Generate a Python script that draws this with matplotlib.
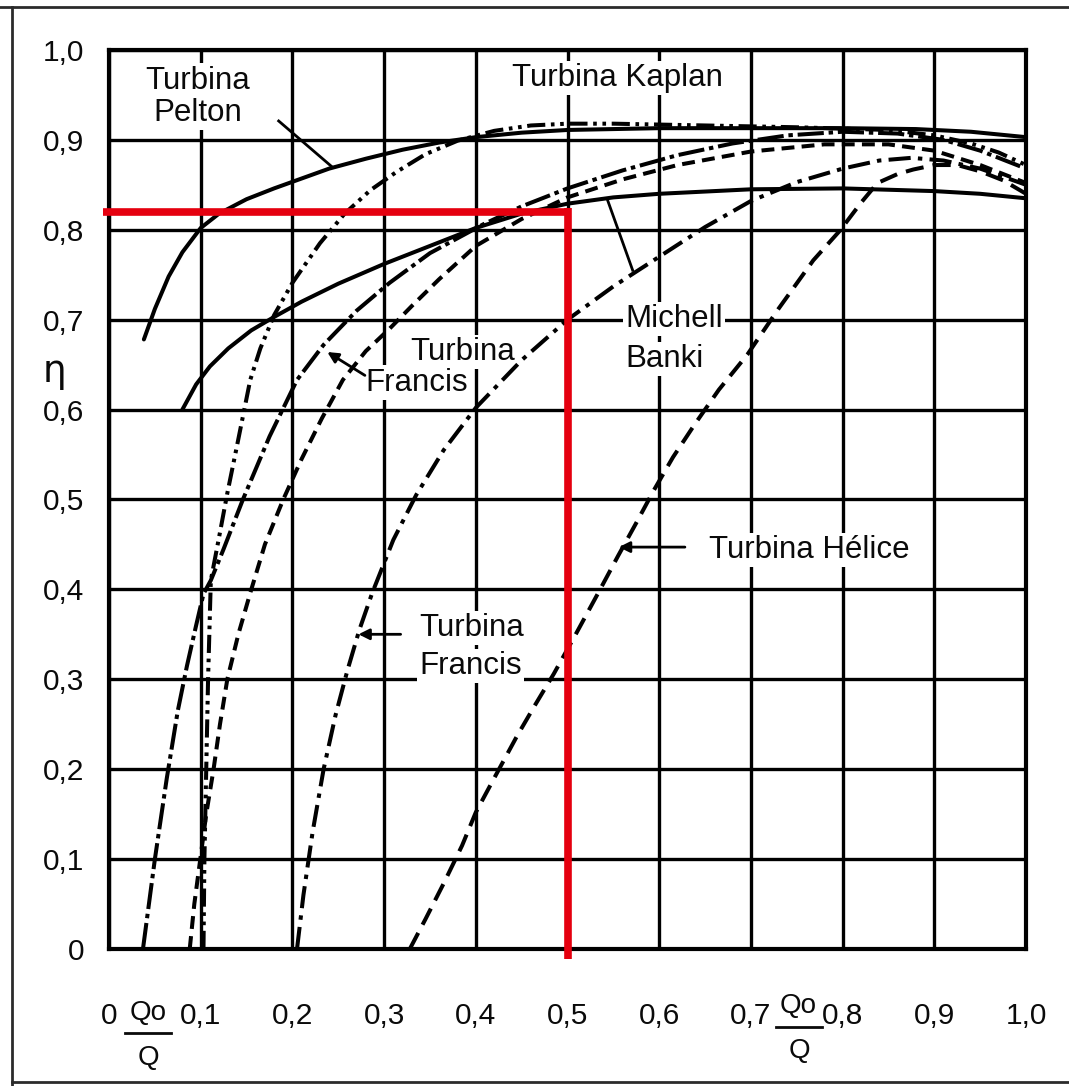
import matplotlib
matplotlib.use("Agg")
import matplotlib.pyplot as plt
from matplotlib.lines import Line2D

# ---------------- data: efficiency (eta) versus flow ratio Q/Qo ----------------
pelton_q = [0.038, 0.05, 0.065, 0.08, 0.10, 0.12, 0.15, 0.18, 0.21, 0.24, 0.28, 0.32,
            0.36, 0.40, 0.45, 0.50, 0.60, 0.70, 0.80, 0.88, 0.94, 1.00]
pelton_eta = [0.678, 0.712, 0.748, 0.775, 0.802, 0.818, 0.834, 0.846, 0.857, 0.868, 0.879,
              0.889, 0.897, 0.903, 0.908, 0.911, 0.913, 0.913, 0.913, 0.912, 0.909, 0.903]

banki_q = [0.08, 0.095, 0.11, 0.13, 0.155, 0.18, 0.21, 0.25, 0.30, 0.35, 0.40, 0.45,
           0.50, 0.55, 0.60, 0.70, 0.80, 0.90, 0.95, 1.00]
banki_eta = [0.600, 0.628, 0.648, 0.668, 0.688, 0.703, 0.720, 0.740, 0.762, 0.782, 0.802,
             0.818, 0.829, 0.836, 0.840, 0.845, 0.846, 0.843, 0.840, 0.835]

kaplan_q = [0.103, 0.104, 0.106, 0.108, 0.111, 0.12, 0.129, 0.14, 0.154, 0.165, 0.18, 0.20,
            0.23, 0.257, 0.285, 0.313, 0.345, 0.38, 0.42, 0.46, 0.50, 0.55, 0.65, 0.75,
            0.85, 0.90, 0.94, 0.97, 1.00]
kaplan_eta = [0.0, 0.1, 0.2, 0.3, 0.41, 0.458, 0.507, 0.562, 0.633, 0.668, 0.705, 0.741,
              0.785, 0.818, 0.844, 0.864, 0.884, 0.899, 0.91, 0.916, 0.918, 0.918, 0.916,
              0.914, 0.911, 0.905, 0.896, 0.886, 0.872]

francis_a_q = [0.037, 0.05, 0.063, 0.075, 0.085, 0.095, 0.103, 0.111, 0.125, 0.146, 0.175,
               0.205, 0.234, 0.27, 0.306, 0.35, 0.408, 0.45, 0.50, 0.56, 0.62, 0.68, 0.74,
               0.80, 0.86, 0.91, 0.95, 1.00]
francis_a_eta = [0.0, 0.1, 0.19, 0.265, 0.315, 0.36, 0.395, 0.41, 0.445, 0.5, 0.57, 0.633,
                 0.672, 0.71, 0.741, 0.774, 0.806, 0.826, 0.846, 0.866, 0.883, 0.896, 0.905,
                 0.909, 0.907, 0.9, 0.888, 0.868]

francis_b_q = [0.088, 0.093, 0.099, 0.106, 0.114, 0.121, 0.129, 0.141, 0.154, 0.17, 0.19,
               0.21, 0.232, 0.255, 0.28, 0.306, 0.33, 0.36, 0.40, 0.45, 0.50, 0.56, 0.62,
               0.70, 0.78, 0.85, 0.90, 0.95, 1.00]
francis_b_eta = [0.0, 0.05, 0.096, 0.15, 0.2, 0.25, 0.3, 0.35, 0.396, 0.45, 0.5, 0.545,
                 0.59, 0.633, 0.665, 0.69, 0.715, 0.745, 0.782, 0.812, 0.836, 0.856, 0.872,
                 0.887, 0.895, 0.895, 0.888, 0.872, 0.852]

francis_c_q = [0.205, 0.212, 0.222, 0.234, 0.247, 0.26, 0.273, 0.287, 0.31, 0.335, 0.365,
               0.40, 0.45, 0.50, 0.55, 0.60, 0.65, 0.70, 0.75, 0.80, 0.84, 0.875, 0.91,
               0.95, 1.00]
francis_c_eta = [0.0, 0.06, 0.13, 0.2, 0.26, 0.31, 0.355, 0.396, 0.455, 0.505, 0.555, 0.602,
                 0.655, 0.70, 0.737, 0.77, 0.803, 0.832, 0.853, 0.868, 0.877, 0.88, 0.877,
                 0.868, 0.85]

helice_q = [0.328, 0.345, 0.365, 0.385, 0.40, 0.42, 0.445, 0.465, 0.485, 0.51, 0.534, 0.555,
            0.575, 0.594, 0.615, 0.639, 0.665, 0.696, 0.73, 0.768, 0.797, 0.82, 0.838, 0.86,
            0.877, 0.90, 0.925, 0.95, 0.975, 1.00]
helice_eta = [0.0, 0.033, 0.073, 0.115, 0.152, 0.19, 0.237, 0.272, 0.306, 0.352, 0.397,
              0.437, 0.474, 0.51, 0.547, 0.584, 0.622, 0.661, 0.712, 0.766, 0.799, 0.83,
              0.852, 0.862, 0.867, 0.872, 0.872, 0.865, 0.855, 0.84]

# worked example
example_q = 0.5
example_eta = 0.82

x_ticks = [0.0, 0.1, 0.2, 0.3, 0.4, 0.5, 0.6, 0.7, 0.8, 0.9, 1.0]
x_labels = ["0", "0,1", "0,2", "0,3", "0,4", "0,5", "0,6", "0,7", "0,8", "0,9", "1,0"]
y_ticks = [0.0, 0.1, 0.2, 0.3, 0.4, 0.5, 0.6, 0.7, 0.8, 0.9, 1.0]
y_labels = ["0", "0,1", "0,2", "0,3", "0,4", "0,5", "0,6", "0,7", "0,8", "0,9", "1,0"]

# ---------------- figure ----------------
plt.rcParams["font.family"] = ["Liberation Sans", "DejaVu Sans"]
ink = "#0a0a0a"

fig = plt.figure(figsize=(10.69, 10.86), dpi=100)
ax = fig.add_axes([0.1020, 0.1262, 0.8578, 0.8278])
ax.set_xlim(0, 1)
ax.set_ylim(0, 1)

ax.set_xticks(x_ticks)
ax.set_xticklabels(x_labels)
ax.set_yticks(y_ticks)
ax.set_yticklabels(y_labels)
ax.tick_params(length=0, labelsize=21.5, colors=ink)
ax.tick_params(axis="x", pad=38)
ax.tick_params(axis="y", pad=18)
ax.grid(True, color="black", lw=2.4, zorder=1)
ax.set_axisbelow(True)
for s in ax.spines.values():
    s.set_linewidth(3.0)
    s.set_color("black")

curve_kw = dict(color="black", lw=2.9, zorder=4, dash_capstyle="butt",
                solid_capstyle="round", clip_on=False)
ax.plot(pelton_q, pelton_eta, ls="-", **curve_kw)
ax.plot(banki_q, banki_eta, ls="-", **curve_kw)
ax.plot(kaplan_q, kaplan_eta, ls=(0, (4.5, 1.4, 0.9, 1.4, 0.9, 1.4)), **curve_kw)
ax.plot(francis_a_q, francis_a_eta, ls=(0, (6.5, 1.2, 1.1, 1.2)), **curve_kw)
ax.plot(francis_b_q, francis_b_eta, ls=(0, (3.2, 1.8)), **curve_kw)
ax.plot(francis_c_q, francis_c_eta, ls=(0, (5.5, 1.8, 1.1, 1.8)), **curve_kw)
ax.plot(helice_q, helice_eta, ls=(0, (4.5, 2.3)), **curve_kw)

# curve labels (white boxes interrupt the grid behind them)
box = dict(facecolor="white", edgecolor="none", pad=1.5)
lbl = dict(fontsize=22.5, color=ink, zorder=3, bbox=box)
ax.text(0.097, 0.948, "Turbina\nPelton", ha="center", va="center",
        linespacing=1.1, **lbl)
ax.text(0.554, 0.969, "Turbina Kaplan", ha="center", va="center", **lbl)
ax.text(0.386, 0.664, "Turbina", ha="center", va="center", **lbl)
ax.text(0.335, 0.630, "Francis", ha="center", va="center", **lbl)
ax.text(0.563, 0.701, "Michell", ha="left", va="center", **lbl)
ax.text(0.563, 0.656, "Banki", ha="left", va="center", **lbl)
ax.text(0.654, 0.444, "Turbina Hélice", ha="left", va="center", **lbl)
ax.text(0.338, 0.357, "Turbina", ha="left", va="center", **lbl)
ax.text(0.338, 0.315, "Francis", ha="left", va="center", **lbl)

# leader lines
lead = dict(color="black", lw=2.0, zorder=5)
ax.plot([0.185, 0.242], [0.921, 0.871], **lead)
ax.plot([0.571, 0.544], [0.755, 0.832], **lead)
arrow = dict(arrowstyle="-|>", color="black", lw=2.0, mutation_scale=16,
             shrinkA=0, shrinkB=0)
ax.annotate("", xy=(0.238, 0.664), xytext=(0.279, 0.638), arrowprops=arrow, zorder=5)
ax.annotate("", xy=(0.272, 0.350), xytext=(0.318, 0.350), arrowprops=arrow, zorder=5)
ax.annotate("", xy=(0.556, 0.447), xytext=(0.628, 0.447), arrowprops=arrow, zorder=5)

# axis symbols
ax.text(-0.059, 0.642, "η", transform=ax.transAxes, ha="center", va="center",
        fontsize=27, family=["DejaVu Sans"], color=ink)
for qx, top_y in [(0.0425, -0.071), (0.752, -0.064)]:
    ax.text(qx, top_y, "Qo", transform=ax.transAxes, ha="center", va="center",
            fontsize=20, color=ink)
    ax.plot([qx - 0.025, qx + 0.025], [top_y - 0.023, top_y - 0.023],
            transform=ax.transAxes, color=ink, lw=2.0, clip_on=False)
    ax.text(qx + 0.001, top_y - 0.050, "Q", transform=ax.transAxes, ha="center",
            va="center", fontsize=20, color=ink)

# red reading lines for the worked example
red = "#e5000f"
ax.plot([-0.007, example_q], [example_eta, example_eta], color=red, lw=5.5,
        zorder=6, clip_on=False, solid_capstyle="butt")
ax.plot([example_q, example_q], [example_eta + 0.004, -0.011], color=red, lw=5.5,
        zorder=6, clip_on=False, solid_capstyle="butt")

# outer frame around the whole chart
frame = dict(color="#2b2b2b", lw=2.0, transform=fig.transFigure)
fig.add_artist(Line2D([0.0, 1.0], [0.9936, 0.9936], **frame))
fig.add_artist(Line2D([0.0112, 0.0112], [0.0, 0.9936], **frame))
fig.add_artist(Line2D([0.0112, 1.0], [0.0037, 0.0037], **frame))

fig.savefig("out.png", dpi=100, facecolor="white")
